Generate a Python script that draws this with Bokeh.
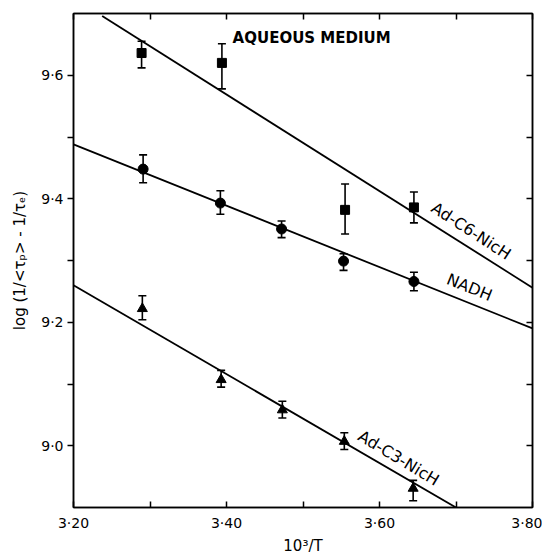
from bokeh.plotting import figure
from bokeh.models import (ColumnDataSource, Whisker, TeeHead, LinearAxis,
                          FixedTicker, Range1d, Label)
from bokeh.embed import file_html
from bokeh.resources import INLINE

# ---------------- data ----------------
c6_x = [3.289, 3.394, 3.555, 3.645]
c6_y = [9.636, 9.620, 9.382, 9.386]
c6_hi = [9.655, 9.651, 9.424, 9.411]
c6_lo = [9.612, 9.578, 9.343, 9.361]

nadh_x = [3.291, 3.392, 3.472, 3.553, 3.645]
nadh_y = [9.448, 9.393, 9.351, 9.299, 9.266]
nadh_hi = [9.471, 9.413, 9.364, 9.311, 9.281]
nadh_lo = [9.426, 9.375, 9.337, 9.284, 9.251]

c3_x = [3.290, 3.393, 3.473, 3.554, 3.644]
c3_y = [9.222, 9.107, 9.058, 9.007, 8.931]
c3_hi = [9.243, 9.122, 9.072, 9.021, 8.944]
c3_lo = [9.204, 9.095, 9.045, 8.994, 8.911]

c6_fit_x = [3.2375, 3.80]
c6_fit_y = [9.696, 9.256]
nadh_fit_x = [3.20, 3.80]
nadh_fit_y = [9.488, 9.190]
c3_fit_x = [3.20, 3.70]
c3_fit_y = [9.260, 8.900]

x_major = [3.2, 3.4, 3.6, 3.8]
x_major_labels = ["3·20", "3·40", "3·60", "3·80"]
x_minor = [3.3, 3.5, 3.7]
y_major = [9.0, 9.2, 9.4, 9.6]
y_major_labels = ["9·0", "9·2", "9·4", "9·6"]
y_minor = [9.1, 9.3, 9.5]

FONT = "DejaVu Sans"

p = figure(frame_width=459, frame_height=494,
           x_range=Range1d(3.2, 3.8), y_range=Range1d(8.9, 9.7),
           output_backend="svg", toolbar_location=None,
           min_border_left=73, min_border_top=13, min_border_right=10,
           min_border_bottom=36, background_fill_color="white",
           border_fill_color="white")
p.grid.visible = False
p.outline_line_color = "black"
p.outline_line_width = 1.5

xt = FixedTicker(ticks=x_major, minor_ticks=x_minor)
yt = FixedTicker(ticks=y_major, minor_ticks=y_minor)

# bottom axis
xa = p.xaxis[0]
xa.ticker = xt
xa.major_label_overrides = dict(zip(x_major, x_major_labels))
xa.major_tick_in = 6
xa.major_tick_out = 0
xa.minor_tick_in = 6
xa.minor_tick_out = 0
xa.axis_line_width = 1.5
xa.major_tick_line_width = 1.5
xa.minor_tick_line_width = 1.5
xa.major_label_text_font = FONT
xa.major_label_text_font_size = "14px"
xa.major_label_text_color = "black"
xa.major_label_standoff = 7
xa.axis_label = "10³/T"
xa.axis_label_text_font = FONT
xa.axis_label_text_font_style = "normal"
xa.axis_label_text_font_size = "15px"
xa.axis_label_text_color = "black"
xa.axis_label_standoff = 3

# left axis
ya = p.yaxis[0]
ya.ticker = yt
ya.major_label_overrides = dict(zip(y_major, y_major_labels))
ya.major_tick_in = 0
ya.major_tick_out = 6
ya.minor_tick_in = 0
ya.minor_tick_out = 6
ya.axis_line_width = 1.5
ya.major_tick_line_width = 1.5
ya.minor_tick_line_width = 1.5
ya.major_label_text_font = FONT
ya.major_label_text_font_size = "14px"
ya.major_label_text_color = "black"
ya.major_label_standoff = 4
ya.axis_label = "log (1/<τₚ> - 1/τₑ)"
ya.axis_label_text_font = FONT
ya.axis_label_text_font_style = "normal"
ya.axis_label_text_font_size = "15px"
ya.axis_label_text_color = "black"
ya.axis_label_standoff = 9

# top and right axes (ticks inward, no labels)
top = LinearAxis(ticker=FixedTicker(ticks=x_major, minor_ticks=x_minor),
                 major_label_overrides={t: "" for t in x_major},
                 major_tick_in=6, major_tick_out=0, minor_tick_in=6,
                 minor_tick_out=0, axis_line_width=1.5,
                 major_tick_line_width=1.5, minor_tick_line_width=1.5,
                 major_label_standoff=0)
right = LinearAxis(ticker=FixedTicker(ticks=y_major, minor_ticks=y_minor),
                   major_label_overrides={t: "" for t in y_major},
                   major_tick_in=6, major_tick_out=0, minor_tick_in=6,
                   minor_tick_out=0, axis_line_width=1.5,
                   major_tick_line_width=1.5, minor_tick_line_width=1.5,
                   major_label_standoff=0)
p.add_layout(top, "above")
p.add_layout(right, "right")

# fitted lines
for fx, fy in [(c6_fit_x, c6_fit_y), (nadh_fit_x, nadh_fit_y), (c3_fit_x, c3_fit_y)]:
    p.line(fx, fy, line_color="black", line_width=1.8)

# error bars + markers
def series(xs, ys, hi, lo, marker, size):
    src = ColumnDataSource(dict(x=xs, y=ys, hi=hi, lo=lo))
    w = Whisker(source=src, base="x", upper="hi", lower="lo",
                line_color="black", line_width=1.6,
                upper_head=TeeHead(size=8, line_width=1.6, line_color="black"),
                lower_head=TeeHead(size=8, line_width=1.6, line_color="black"))
    p.add_layout(w)
    p.scatter("x", "y", source=src, marker=marker, size=size,
              fill_color="black", line_color="black")

series(c6_x, c6_y, c6_hi, c6_lo, "square", 9)
series(nadh_x, nadh_y, nadh_hi, nadh_lo, "circle", 10)
series(c3_x, c3_y, c3_hi, c3_lo, "triangle", 10)

# annotations
p.add_layout(Label(x=3.408, y=9.661, text="AQUEOUS MEDIUM", text_font=FONT,
                   text_font_size="15px", text_font_style="bold",
                   text_color="black",
                   text_align="left", text_baseline="middle"))
p.add_layout(Label(x=3.670, y=9.388, text="Ad-C6-NicH", text_font=FONT,
                   text_font_size="16px", angle=-33, angle_units="deg",
                   text_color="black",
                   text_align="left", text_baseline="middle"))
p.add_layout(Label(x=3.689, y=9.271, text="NADH", text_font=FONT,
                   text_font_size="16px", angle=-22, angle_units="deg",
                   text_color="black",
                   text_align="left", text_baseline="middle"))
p.add_layout(Label(x=3.574, y=9.018, text="Ad-C3-NicH", text_font=FONT,
                   text_font_size="16px", angle=-31, angle_units="deg",
                   text_color="black",
                   text_align="left", text_baseline="middle"))

open("out.html", "w").write(file_html(p, INLINE))
